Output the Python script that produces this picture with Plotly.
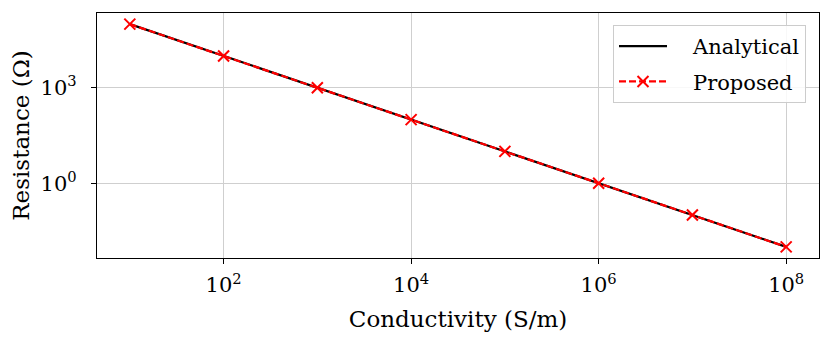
import plotly.graph_objects as go

# conductivity sweep and resistance values
conductivity = [1e1, 1e2, 1e3, 1e4, 1e5, 1e6, 1e7, 1e8]
r_analytical = [1e5, 1e4, 1e3, 1e2, 1e1, 1e0, 1e-1, 1e-2]
r_proposed = [1e5, 1e4, 1e3, 1e2, 1e1, 1e0, 1e-1, 1e-2]

x_ticks = [1e2, 1e4, 1e6, 1e8]
x_ticktext = ["10<sup>2</sup>", "10<sup>4</sup>", "10<sup>6</sup>", "10<sup>8</sup>"]
y_ticks = [1e0, 1e3]
y_ticktext = ["10<sup>0</sup>", "10<sup>3</sup>"]

FONT = "DejaVu Serif"
GAP = "\u2002\u2002"  # space between legend line and label

fig = go.Figure()
fig.add_trace(go.Scatter(x=conductivity, y=r_analytical, mode="lines", name=GAP + "Analytical",
                         legendgroup="a",
                         line=dict(color="black", width=2.2)))
fig.add_trace(go.Scatter(x=conductivity, y=r_proposed, mode="lines+markers", name=GAP + "Proposed",
                         legendgroup="b",
                         line=dict(color="red", width=2.2, dash="7px,3px"),
                         marker=dict(symbol="x-thin", size=11, line=dict(color="red", width=2))))

axis_common = dict(type="log", showline=True, linecolor="black", linewidth=1.3, mirror=True,
                   ticks="outside", ticklen=5, tickwidth=1, tickcolor="black",
                   showgrid=True, gridcolor="#cfcfcf", gridwidth=1, zeroline=False,
                   automargin=False,
                   tickfont=dict(family=FONT, size=21, color="black"))

# page body adds an 8px margin, so the figure is a bit smaller than the window
fig.update_layout(
    width=823, height=335,
    margin=dict(l=89, r=12, t=5, b=85, autoexpand=False),
    plot_bgcolor="white", paper_bgcolor="white",
    font=dict(family=FONT, color="black"),
    xaxis=dict(axis_common, range=[0.65, 8.35], tickvals=x_ticks, ticktext=x_ticktext,
               ticklabelstandoff=3,
               title=dict(text="Conductivity (S/m)", font=dict(family=FONT, size=23), standoff=14)),
    yaxis=dict(axis_common, range=[-2.35, 5.35], tickvals=y_ticks, ticktext=y_ticktext,
               ticklabelstandoff=10,
               title=dict(text="Resistance (Ω)", font=dict(family=FONT, size=23), standoff=10)),
    legend=dict(x=0.982, y=0.951, xanchor="right", yanchor="top",
                bgcolor="rgba(255,255,255,0.85)", bordercolor="#cccccc", borderwidth=1,
                font=dict(family=FONT, size=21), itemwidth=48, tracegroupgap=5),
    showlegend=True,
)

fig.write_html("out.html")
